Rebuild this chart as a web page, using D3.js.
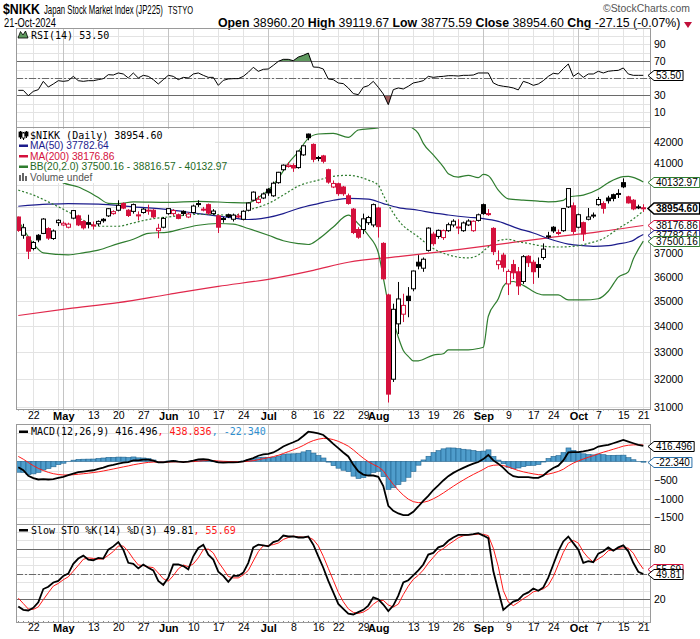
<!DOCTYPE html>
<html>
<head>
<meta charset="utf-8">
<script src="https://cdn.jsdelivr.net/npm/d3@7"></script>
<style>
  body { margin: 0; background: #fff; }
  svg { display: block; }
</style>
</head>
<body>
<div id="chart"></div>
<script>
const WIDTH = 700;
const HEIGHT = 639;

// trading calendar (Tokyo)
const holidays = ['2024-04-29', '2024-05-03', '2024-05-06', '2024-07-15', '2024-08-12', '2024-09-16', '2024-09-23', '2024-10-14'];
const xLabelDays = ['2024-04-22', '2024-05-01', '2024-05-13', '2024-05-20', '2024-05-27', '2024-06-03', '2024-06-10',
  '2024-06-17', '2024-06-24', '2024-07-01', '2024-07-08', '2024-07-16', '2024-07-22', '2024-07-29', '2024-08-01',
  '2024-08-13', '2024-08-19', '2024-08-26', '2024-09-02', '2024-09-09', '2024-09-17', '2024-09-24', '2024-10-01',
  '2024-10-07', '2024-10-15', '2024-10-21'];

const prevClose = 38471.2;
const opens = [38550, 37750, 37680, 37180, 37750, 37830, 38040, 37610, 38300, 38200,
  38100, 38500, 38600, 38350, 38300, 38200, 38250, 38450, 38600, 38700,
  38850, 39150, 38850, 38800, 38600, 38750, 38850, 38850, 37950, 38100,
  38700, 38700, 38650, 38800, 38550, 38750, 39150, 38900, 39100, 38700,
  38600, 38450, 38650, 38450, 38550, 38450, 38850, 39300, 39200, 39400,
  39800, 39500, 40100, 40700, 40850, 40900, 40800, 41400, 42400, 41900,
  41250, 41350, 40700, 39900, 40050, 39900, 39500, 38900, 38000, 38000,
  38300, 38200, 38950, 37400, 35250, 32000, 34100, 34480, 35200, 35500,
  36600, 36350, 37100, 37800, 37700, 37650, 37950, 38200, 38100, 37950,
  38200, 37950, 38400, 39100, 38700, 38050, 36500, 36900, 35700, 36500,
  36200, 35800, 36850, 36600, 36500, 36800, 37700, 38100, 37850, 37950,
  39000, 39050, 38100, 38300, 38450, 38600, 39100, 39150, 39400, 39550,
  39600, 40100, 39450, 39300, 39000, 38960.2];
const highs = [38570, 38250, 37700, 37500, 37800, 38500, 38100, 38000, 38450, 38350,
  38300, 38860, 38650, 38400, 38650, 38350, 38400, 38500, 38950, 38850,
  39300, 39200, 38900, 39150, 38800, 38950, 39100, 38900, 38250, 38550,
  38950, 38900, 38700, 38850, 38750, 39100, 39300, 39000, 39150, 38900,
  38650, 38550, 38700, 38700, 38700, 38850, 39200, 39700, 39500, 39650,
  39850, 40150, 40600, 40950, 41050, 41000, 41600, 41850, 42426, 41950,
  41350, 41400, 40750, 40200, 40100, 39950, 39600, 38950, 38100, 38700,
  38600, 39150, 39000, 37450, 35300, 34900, 35780, 35300, 35570, 36250,
  36900, 36800, 38100, 37900, 38000, 38000, 38300, 38450, 38450, 38350,
  38450, 38400, 38700, 39150, 38900, 38100, 37100, 37000, 36300, 36700,
  36400, 36900, 36900, 36700, 36800, 37400, 37900, 38150, 38000, 38950,
  39830, 39200, 38700, 38350, 38950, 38750, 39450, 39250, 39500, 39600,
  39800, 40300, 39500, 39350, 39100, 39119.67];
const lows = [37900, 37600, 36733, 37100, 37450, 37800, 37550, 37550, 38150, 38150,
  38050, 38450, 38150, 38000, 38050, 38000, 38150, 38300, 38550, 38650,
  38800, 38900, 38550, 38700, 38400, 38700, 38650, 38500, 37620, 38050,
  38650, 38600, 38450, 38600, 38500, 38700, 39000, 38800, 38650, 38650,
  37850, 38300, 38500, 38350, 38500, 38400, 38800, 39250, 39150, 39350,
  39500, 39450, 40050, 40650, 40800, 40600, 40750, 41350, 42100, 41050,
  41100, 41000, 40050, 39850, 39500, 39500, 39100, 37800, 37600, 37800,
  38200, 38100, 37650, 35880, 31156, 31900, 33700, 34170, 34360, 35400,
  36300, 36200, 37050, 37300, 37600, 37550, 37900, 38100, 37800, 37900,
  38150, 37900, 38350, 38650, 38600, 36900, 36300, 36200, 35247, 35900,
  35250, 35700, 36400, 35700, 35950, 36700, 37600, 37850, 37750, 37900,
  38950, 37800, 38050, 37500, 38400, 38500, 39050, 38700, 39150, 39250,
  39400, 39850, 39150, 38850, 38900, 38775.59];
const closes = [37961.8, 38079.7, 37068.35, 37438.61, 37552.16, 38460.08, 37628.48, 37934.76, 38405.66, 38274.05,
  38236.07, 38835.1, 38202.37, 38073.98, 38229.11, 38179.46, 38356.06, 38385.73, 38920.26, 38787.38,
  39069.68, 38946.93, 38617.1, 39103.22, 38646.11, 38900.02, 38855.37, 38556.87, 38054.13, 38487.9,
  38923.03, 38837.46, 38490.17, 38703.51, 38683.93, 39038.16, 39134.79, 38876.71, 38720.47, 38814.56,
  38102.44, 38482.11, 38570.76, 38633.02, 38596.47, 38804.65, 39173.15, 39667.07, 39341.54, 39583.08,
  39631.06, 40074.69, 40580.76, 40913.65, 40912.37, 40780.7, 41580.17, 41831.99, 42224.02, 41190.68,
  41275.08, 41097.69, 40126.35, 40063.79, 39599.0, 39594.39, 39154.85, 37869.51, 37667.41, 38468.63,
  38525.95, 39101.82, 38126.33, 35909.7, 31458.42, 34675.46, 35089.62, 34831.15, 35025.0, 36232.51,
  36442.43, 36726.64, 38062.67, 37388.62, 37963.97, 37951.8, 38211.01, 38364.27, 38110.22, 38288.62,
  38371.76, 38362.53, 38647.75, 38700.87, 38686.31, 37047.61, 36657.09, 36391.47, 36215.75, 36159.16,
  35619.77, 36833.27, 36581.76, 36203.22, 36380.17, 37155.33, 37723.91, 37940.59, 37870.26, 38925.63,
  39829.56, 37919.55, 38651.97, 37808.76, 38552.06, 38635.62, 39332.74, 38937.54, 39277.96, 39380.89,
  39605.8, 39910.55, 39180.3, 38911.19, 38981.75, 38954.6];

// overlays: [trading day index, value]
const ma50 = [[0, 39030], [6, 39120], [10, 39150], [16, 39120], [23, 39000], [30, 38880], [36, 38700], [43, 38510],
  [46, 38440], [50, 38530], [53, 38700], [56, 38930], [60, 39150], [63, 39300], [66, 39380], [70, 39350], [73, 39150],
  [76, 38970], [80, 38850], [83, 38730], [86, 38640], [90, 38540], [93, 38480], [96, 38360], [100, 38040], [103, 37850],
  [106, 37610], [110, 37370], [113, 37300], [115, 37270], [118, 37300], [120, 37380], [122, 37460], [123, 37530],
  [124, 37670], [125, 37782.64]];
const ma200 = [[0, 34430], [10, 34700], [20, 34940], [30, 35270], [40, 35600], [50, 35890], [59, 36260], [66, 36600],
  [76, 36840], [86, 37080], [96, 37360], [106, 37640], [116, 37900], [125, 38176.86]];
const bbUpper = [[0, 41100], [3, 40900], [6, 40500], [9, 40092], [12, 39900], [14, 39680], [16, 39420], [18, 39160],
  [20, 39150], [23, 39225], [30, 39200], [36, 39250], [43, 39190], [46, 39180], [48, 39424], [50, 39757], [52, 40296],
  [54, 40997], [56, 41548], [58, 42193], [60, 42403], [63, 42436], [66, 42242], [68, 42599], [72, 42700], [74, 43300],
  [76, 43500], [78, 42850], [80, 42436], [81, 41952], [83, 41395], [85, 40835], [86, 40518], [88, 40360], [90, 40439],
  [92, 40329], [93, 40480], [94, 40420], [96, 39757], [98, 39360], [101, 39300], [104, 39260], [106, 39225], [109, 39295],
  [110, 39450], [113, 39534], [116, 39800], [118, 40100], [121, 40380], [122, 40390], [124, 40250], [125, 40132.97]];
const bbMiddle = [[0, 39757], [3, 39534], [6, 39225], [10, 38776], [13, 38408], [16, 38143], [20, 38143], [23, 38288],
  [26, 38440], [30, 38554], [33, 38620], [36, 38674], [40, 38650], [43, 38620], [46, 38853], [50, 39153], [53, 39534],
  [56, 39944], [60, 40216], [63, 40391], [66, 40440], [70, 40216], [72, 39983], [73, 39534], [74, 39100], [76, 38408],
  [80, 37677], [83, 37180], [86, 36913], [90, 36780], [92, 36900], [94, 37250], [96, 37520], [98, 37579], [100, 37470],
  [102, 37400], [104, 37313], [106, 37260], [108, 37245], [112, 37300], [114, 37400], [117, 37607], [120, 38043],
  [123, 38460], [125, 38816.57]];
const bbLower = [[0, 38408], [3, 37391], [5, 36998], [10, 36913], [13, 36998], [16, 37111], [20, 37391], [23, 37579],
  [26, 37830], [30, 37889], [33, 38043], [36, 38188], [40, 38263], [43, 38233], [46, 38043], [50, 37750], [53, 37513],
  [56, 37391], [58, 37352], [60, 37579], [63, 38110], [66, 38630], [68, 38250], [70, 37750], [72, 37000], [73, 35950],
  [74, 34899], [75, 34233], [76, 33582], [77, 33072], [78, 32850], [79, 32680], [80, 32683], [83, 32900], [85, 32950],
  [86, 33100], [90, 33100], [92, 33150], [93, 33200], [94, 34400], [96, 35098], [97, 35600], [98, 35775], [99, 35800],
  [101, 35640], [104, 35300], [105, 35250], [108, 35250], [110, 35050], [113, 35050], [116, 35098], [118, 35400],
  [120, 35982], [122, 36200], [123, 36733], [125, 37500.16]];

const rsi = [35.8, 35.8, 29.5, 34.6, 36.6, 46.4, 39.7, 43.3, 47.2, 46.4,
  47.2, 52.3, 47.2, 46.4, 47.2, 47.2, 48.4, 49.6, 54.3, 53.9,
  56.3, 55.1, 50.4, 56.3, 50.4, 53.5, 52.3, 48.4, 43.3, 48.4,
  53.5, 52.3, 48.4, 51.1, 50.4, 55.1, 56.3, 53.5, 51.1, 51.1,
  41.7, 47.6, 49.2, 49.6, 49.6, 52.3, 57.1, 63.0, 58.2, 60.6,
  61.0, 65.3, 70.0, 72.4, 72.4, 70.8, 75.1, 77.1, 79.8, 63.3,
  63.0, 61.0, 49.2, 48.4, 44.5, 43.7, 38.6, 31.9, 30.7, 39.4,
  41.3, 46.4, 39.4, 31.5, 18.9, 36.6, 38.6, 37.4, 40.6, 44.5,
  45.7, 47.2, 52.3, 51.1, 51.9, 52.3, 53.1, 53.1, 52.7, 53.5,
  53.5, 53.9, 56.3, 56.3, 56.3, 44.5, 41.7, 40.6, 39.8, 38.6,
  36.3, 46.4, 44.5, 41.7, 43.3, 47.2, 52.3, 55.9, 55.1, 61.4,
  66.9, 52.3, 56.3, 51.1, 55.1, 55.1, 58.3, 56.3, 58.3, 59.0,
  59.4, 62.2, 55.1, 53.5, 53.5, 53.5];

const macdLine = [-159, -238, -388, -450, -485, -476, -485, -476, -441, -415,
  -370, -326, -291, -273, -256, -238, -203, -168, -123, -97,
  -62, -35, -18, 26, 26, 44, 44, 18, -26, -26,
  -9, 9, -9, -18, -9, 18, 53, 62, 44, 9,
  -26, -35, -26, -26, -18, 0, 44, 88, 150, 185,
  203, 238, 309, 397, 459, 512, 573, 679, 794, 776,
  750, 706, 591, 467, 353, 238, 132, -88, -265, -353,
  -379, -379, -415, -662, -1191, -1323, -1394, -1438, -1438, -1349,
  -1208, -1058, -926, -767, -644, -512, -397, -309, -238, -176,
  -115, -62, -18, 60, 170, 26, -62, -176, -309, -397,
  -423, -423, -423, -441, -441, -379, -265, -176, -115, 26,
  238, 247, 247, 265, 291, 326, 397, 423, 441, 485,
  529, 573, 529, 485, 441, 416.496];
const macdSignal = [132, 58, -31, -115, -189, -246, -294, -330, -352, -365,
  -366, -358, -345, -331, -316, -300, -281, -258, -231, -204,
  -176, -148, -122, -92, -68, -46, -28, -19, -20, -21,
  -19, -13, -12, -13, -12, -6, 6, 17, 22, 19,
  10, 1, -4, -8, -10, -8, 2, 19, 45, 73,
  99, 127, 163, 210, 260, 310, 363, 426, 500, 555,
  594, 616, 611, 582, 536, 476, 407, 308, 193, 84,
  -9, -83, -149, -252, -440, -617, -772, -905, -1012, -1079,
  -1105, -1096, -1062, -1003, -931, -847, -757, -667, -581, -500,
  -423, -351, -284, -215, -138, -105, -96, -112, -151, -200,
  -245, -281, -309, -335, -356, -361, -342, -309, -270, -211,
  -121, -47, 12, 63, 109, 152, 201, 245, 284, 324,
  365, 407, 431, 442, 442, 438.836];
const macdHist = [-291, -296, -357, -335, -296, -230, -191, -146, -89, -50,
  -4, 32, 54, 58, 60, 62, 78, 90, 108, 107,
  114, 113, 104, 118, 94, 90, 72, 37, -6, -5,
  10, 22, 3, -5, 3, 24, 47, 45, 22, -10,
  -36, -36, -22, -18, -8, 8, 42, 69, 105, 112,
  104, 111, 146, 187, 199, 202, 210, 253, 294, 221,
  156, 90, -20, -115, -183, -238, -275, -396, -458, -437,
  -370, -296, -266, -410, -751, -706, -622, -533, -426, -270,
  -103, 38, 136, 236, 287, 335, 360, 358, 343, 324,
  308, 289, 266, 275, 308, 131, 34, -64, -158, -197,
  -178, -142, -114, -106, -85, -18, 77, 133, 155, 237,
  359, 294, 235, 202, 182, 174, 196, 178, 157, 161,
  164, 166, 98, 43, -1, -22.34];

const stoK = [10.9, 7.0, 6.2, 9.4, 16.0, 31.8, 34.5, 39.6, 41.5, 47.5,
  50.2, 61.9, 68.2, 71.7, 67.0, 66.2, 69.0, 68.2, 78.8, 82.7,
  87.8, 78.8, 63.1, 61.9, 56.4, 61.1, 57.2, 54.0, 41.5, 36.8,
  45.4, 61.1, 61.1, 59.2, 55.3, 70.9, 80.8, 84.7, 72.9, 67.0,
  52.5, 47.5, 40.4, 47.5, 47.5, 51.4, 63.1, 81.5, 84.7, 83.9,
  82.7, 87.8, 89.7, 95.6, 94.5, 94.5, 93.3, 93.3, 94.5, 84.7,
  70.9, 57.2, 41.5, 27.8, 14.1, 8.2, 2.4, 1.5, 4.3, 7.0,
  12.1, 21.9, 19.6, 13.3, 5.5, 12.1, 23.9, 39.6, 42.3, 48.2,
  54.1, 61.1, 72.9, 74.9, 81.5, 83.5, 89.4, 93.3, 96.4, 96.4,
  96.4, 97.2, 98.4, 95.6, 92.5, 53.3, 29.8, 7.0, 12.1, 16.9,
  18.8, 25.1, 27.8, 32.5, 29.8, 33.7, 45.4, 61.1, 76.8, 88.6,
  94.5, 86.6, 78.8, 63.1, 65.1, 63.9, 74.1, 76.8, 81.5, 77.6,
  81.5, 83.9, 76.8, 63.1, 52.5, 49.81];
const stoD = [21.0, 14.5, 8.0, 7.5, 10.5, 19.1, 27.4, 35.3, 38.5, 42.9,
  46.4, 53.2, 60.1, 67.3, 69.0, 68.3, 67.4, 67.8, 72.0, 76.6,
  83.1, 83.1, 76.6, 67.9, 60.5, 59.8, 58.2, 57.4, 50.9, 44.1,
  41.2, 47.8, 55.9, 60.5, 58.5, 61.8, 69.0, 78.8, 79.5, 74.9,
  64.1, 55.7, 46.8, 45.1, 45.1, 48.8, 54.0, 65.3, 76.4, 83.4,
  83.8, 84.8, 86.7, 91.0, 93.3, 94.9, 94.1, 93.7, 93.7, 90.8,
  83.4, 70.9, 56.5, 42.2, 27.8, 16.7, 8.2, 4.0, 2.7, 4.3,
  7.8, 13.7, 17.9, 18.3, 12.8, 10.3, 13.8, 25.2, 35.3, 43.4,
  48.2, 54.5, 62.7, 69.6, 76.4, 80.0, 84.8, 88.7, 93.0, 95.4,
  96.4, 96.7, 97.3, 97.1, 95.5, 80.5, 58.5, 30.0, 16.3, 12.0,
  15.9, 20.3, 23.9, 28.5, 30.0, 32.0, 36.3, 46.7, 61.1, 75.5,
  86.6, 89.9, 86.6, 76.2, 69.0, 64.0, 67.7, 71.6, 77.5, 78.6,
  80.2, 81.0, 80.7, 74.6, 64.1, 55.69];

// tick labels (values hidden under a value tag in the original are left out)
const priceTicks = [31000, 32000, 33000, 34000, 35000, 36000, 37000, 41000, 42000];
const priceGrid = [31000, 32000, 33000, 34000, 35000, 36000, 37000, 38000, 39000, 40000, 41000, 42000];
const rsiTicks = [10, 30, 70, 90];
const rsiGrid = [0, 10, 20, 30, 40, 50, 60, 70, 80, 90, 100];
const macdTicks = [-500, -1000, -1500];
const macdGrid = [-1500, -1250, -1000, -750, -500, -250, 0, 250, 500, 750];
const stoTicks = [20, 80];
const stoGrid = [0, 10, 20, 30, 40, 50, 60, 70, 80, 90, 100];

// layout
const PLOT = { LEFT: 16, RIGHT: 650 };
const PANEL = {
  rsi: { top: 28, bottom: 127 },
  price: { top: 127, bottom: 409 },
  macd: { top: 424, bottom: 524 },
  sto: { top: 524, bottom: 622 },
};
const RED = '#d4103c';
const GREEN = '#2f7d2f';
const NAVY = '#1c1c8c';
const GRID = '#e3e3e3';
const MONTH_GRID = '#c4c4c4';
const FRAME = '#9a9a9a';
const MONO = "'DejaVu Sans Mono', monospace";
const SANS = "'Liberation Sans', Arial, sans-serif";

const fmtDay = d3.timeFormat('%Y-%m-%d');
const dates = d3.timeDay
  .range(new Date(2024, 3, 17), new Date(2024, 9, 22))
  .filter((d) => d.getDay() % 6 !== 0 && !holidays.includes(fmtDay(d)))
  .map(fmtDay);

const weekStarts = dates.filter((d, i) => i > 0 &&
  +d3.timeMonday.floor(new Date(d)) !== +d3.timeMonday.floor(new Date(dates[i - 1])));
const monthStarts = dates.filter((d, i) => i > 0 && d.slice(5, 7) !== dates[i - 1].slice(5, 7));

const x = d3.scalePoint().domain(dates).range([18.3, 643.3]);
const xi = (i) => x(dates[i]);
const yRsi = d3.scaleLinear().domain([-7.5, 109.4]).range([PANEL.rsi.bottom, PANEL.rsi.top]);
const yPrice = d3.scaleLog().domain([30925, 42746]).range([PANEL.price.bottom, PANEL.price.top]);
const yMacd = d3.scaleLinear().domain([-1677, 1000]).range([PANEL.macd.bottom, PANEL.macd.top]);
const ySto = d3.scaleLinear().domain([-7.5, 109.4]).range([PANEL.sto.bottom, PANEL.sto.top]);

const svg = d3.select('#chart').append('svg')
  .attr('width', WIDTH).attr('height', HEIGHT)
  .style('font-family', SANS);

const clipFor = (id, { top, bottom }) => {
  svg.append('clipPath').attr('id', id).append('rect')
    .attr('x', PLOT.LEFT).attr('y', top)
    .attr('width', PLOT.RIGHT - PLOT.LEFT).attr('height', bottom - top);
  return `url(#${id})`;
};

const drawGrid = (panel, y, gridValues) => {
  const g = svg.append('g');
  g.selectAll('.hg').data(gridValues).join('line')
    .attr('x1', PLOT.LEFT).attr('x2', PLOT.RIGHT)
    .attr('y1', (d) => Math.round(y(d)) + 0.5).attr('y2', (d) => Math.round(y(d)) + 0.5)
    .attr('stroke', GRID);
  g.selectAll('.wg').data(weekStarts).join('line')
    .attr('x1', (d) => Math.round(x(d)) + 0.5).attr('x2', (d) => Math.round(x(d)) + 0.5)
    .attr('y1', panel.top).attr('y2', panel.bottom)
    .attr('stroke', GRID);
  g.selectAll('.mg').data(monthStarts).join('line')
    .attr('x1', (d) => Math.round(x(d)) + 0.5).attr('x2', (d) => Math.round(x(d)) + 0.5)
    .attr('y1', panel.top).attr('y2', panel.bottom)
    .attr('stroke', MONTH_GRID);
};

const drawRightAxis = (y, ticks, format) => {
  svg.append('g')
    .attr('transform', `translate(${PLOT.RIGHT}, 0)`)
    .call(d3.axisRight(y).tickValues(ticks).tickSize(0).tickPadding(4).tickFormat(format))
    .call((g) => g.select('.domain').remove())
    .selectAll('text')
    .style('font-family', SANS)
    .style('font-size', '10.5px')
    .attr('fill', '#000');
};

const drawFrame = ({ top, bottom }) => {
  svg.append('rect')
    .attr('x', PLOT.LEFT + 0.5).attr('y', top + 0.5)
    .attr('width', PLOT.RIGHT - PLOT.LEFT).attr('height', bottom - top)
    .attr('fill', 'none').attr('stroke', FRAME);
};

const refLine = (y, value, dashed) => svg.append('line')
  .attr('x1', PLOT.LEFT).attr('x2', PLOT.RIGHT)
  .attr('y1', Math.round(y(value)) + 0.5).attr('y2', Math.round(y(value)) + 0.5)
  .attr('stroke', '#6a6a6a')
  .attr('stroke-dasharray', dashed ? '7,2,2,2' : null);

const drawTag = (y, label, { stroke, color = '#000', bold = false, width = 1 }) => {
  const g = svg.append('g').attr('transform', `translate(${PLOT.RIGHT - 2}, ${Math.round(y) + 0.5})`);
  const path = g.append('path');
  const text = g.append('text')
    .attr('x', 8).attr('dy', '0.36em')
    .style('font-family', SANS)
    .style('font-size', '10px')
    .style('font-weight', bold ? 'bold' : null)
    .attr('fill', color)
    .text(label);
  const w = text.node().getComputedTextLength();
  const h = bold ? 5.5 : 5;
  path.attr('d', `M0,0 L6,${-h} H${w + 10} V${h} H6 Z`)
    .attr('fill', '#fff').attr('stroke', stroke).attr('stroke-width', width);
};

const lineOf = (y) => d3.line().x((d, i) => xi(i)).y((d) => y(d));
const pairLine = (y) => d3.line().x((d) => xi(d[0])).y((d) => y(d[1])).curve(d3.curveMonotoneX);

// header: the original uses a narrow face, so each run is squeezed horizontally to its width
const header = svg.append('g');
const headText = (x0, y0, size, targetWidth, txt, bold) => {
  const g = header.append('g');
  const t = g.append('text')
    .style('font-size', size).style('font-weight', bold ? 'bold' : null)
    .text(txt);
  const sx = targetWidth / t.node().getComputedTextLength();
  g.attr('transform', `translate(${x0}, ${y0}) scale(${sx}, 1)`);
  return t;
};
headText(3, 13.5, '15px', 37, '$NIKK', true);
headText(44, 13.5, '12.5px', 119, 'Japan Stock Market Index (JP225)');
headText(168, 13.5, '10.5px', 25, 'TSTYO');
headText(603, 12, '11.5px', 87, '©StockCharts.com').attr('fill', '#555');
headText(4, 27, '12px', 52, '21-Oct-2024');
const quote = headText(218, 27, '12.5px', 463, '');
[['Open', ' 38960.20 '], ['High', ' 39119.67 '], ['Low', ' 38775.59 '], ['Close', ' 38954.60 '], ['Chg', ' -27.15 (-0.07%)']]
  .forEach(([k, v]) => {
    quote.append('tspan').style('font-weight', 'bold').text(k);
    quote.append('tspan').text(v);
  });
const quoteScale = 463 / quote.node().getComputedTextLength();
d3.select(quote.node().parentNode).attr('transform', `translate(218, 27) scale(${quoteScale}, 1)`);
header.append('path').attr('d', 'M684,22 L692,22 L688,28 Z').attr('fill', '#c0103a');

// grids
drawGrid(PANEL.rsi, yRsi, rsiGrid);
drawGrid(PANEL.price, yPrice, priceGrid);
drawGrid(PANEL.macd, yMacd, macdGrid);
drawGrid(PANEL.sto, ySto, stoGrid);

// RSI panel
const rsiClip = clipFor('clip-rsi', PANEL.rsi);
svg.append('clipPath').attr('id', 'rsi-hi').append('rect')
  .attr('x', PLOT.LEFT).attr('y', PANEL.rsi.top).attr('width', PLOT.RIGHT - PLOT.LEFT)
  .attr('height', yRsi(70) - PANEL.rsi.top);
svg.append('clipPath').attr('id', 'rsi-lo').append('rect')
  .attr('x', PLOT.LEFT).attr('y', yRsi(30)).attr('width', PLOT.RIGHT - PLOT.LEFT)
  .attr('height', PANEL.rsi.bottom - yRsi(30));
svg.append('path').datum(rsi).attr('clip-path', 'url(#rsi-hi)')
  .attr('d', d3.area().x((d, i) => xi(i)).y0(yRsi(70)).y1((d) => yRsi(d)))
  .attr('fill', '#5f995f');
svg.append('path').datum(rsi).attr('clip-path', 'url(#rsi-lo)')
  .attr('d', d3.area().x((d, i) => xi(i)).y0(yRsi(30)).y1((d) => yRsi(d)))
  .attr('fill', '#9e5c5c');
refLine(yRsi, 70);
refLine(yRsi, 30);
refLine(yRsi, 50, true);
svg.append('path').datum(rsi).attr('clip-path', rsiClip)
  .attr('d', lineOf(yRsi)).attr('fill', 'none').attr('stroke', '#000').attr('stroke-width', 1);
drawRightAxis(yRsi, rsiTicks, d3.format('d'));

// price panel
const priceClip = clipFor('clip-price', PANEL.price);
const overlays = svg.append('g').attr('clip-path', priceClip).attr('fill', 'none');
overlays.append('path').datum(ma200).attr('d', pairLine(yPrice)).attr('stroke', '#e0284c').attr('stroke-width', 1.2);
overlays.append('path').datum(ma50).attr('d', pairLine(yPrice)).attr('stroke', NAVY).attr('stroke-width', 1.2);
overlays.append('path').datum(bbUpper).attr('d', pairLine(yPrice)).attr('stroke', GREEN).attr('stroke-width', 1.2);
overlays.append('path').datum(bbLower).attr('d', pairLine(yPrice)).attr('stroke', GREEN).attr('stroke-width', 1.2);
overlays.append('path').datum(bbMiddle).attr('d', pairLine(yPrice)).attr('stroke', GREEN)
  .attr('stroke-width', 1.2).attr('stroke-dasharray', '2,2');

const candles = closes.map((c, i) => ({
  i,
  open: opens[i],
  high: highs[i],
  low: lows[i],
  close: c,
  up: c >= (i === 0 ? prevClose : closes[i - 1]),
}));
const candleG = svg.append('g').attr('clip-path', priceClip);
candleG.selectAll('line').data(candles).join('line')
  .attr('x1', (d) => Math.round(xi(d.i)) + 0.5).attr('x2', (d) => Math.round(xi(d.i)) + 0.5)
  .attr('y1', (d) => yPrice(d.high)).attr('y2', (d) => yPrice(d.low))
  .attr('stroke', (d) => (d.up ? '#000' : RED));
candleG.selectAll('rect').data(candles).join('rect')
  .attr('x', (d) => Math.round(xi(d.i)) - 1.5)
  .attr('y', (d) => yPrice(Math.max(d.open, d.close)))
  .attr('width', 4)
  .attr('height', (d) => Math.max(1, Math.abs(yPrice(d.open) - yPrice(d.close))))
  .attr('fill', (d) => (d.close < d.open ? (d.up ? '#000' : RED) : '#fff'))
  .attr('stroke', (d) => (d.up ? '#000' : RED));

drawRightAxis(yPrice, priceTicks, d3.format('d'));

// price legend
const legend = svg.append('g');
legend.append('rect').attr('x', PLOT.LEFT + 1).attr('y', 129).attr('width', 198).attr('height', 54).attr('fill', '#fff');
const legendRows = [
  { y: 135.5, color: '#000', text: '$NIKK (Daily) 38954.60', font: MONO },
  { y: 145.5, color: NAVY, text: 'MA(50) 37782.64', font: SANS, swatch: NAVY },
  { y: 156, color: RED, text: 'MA(200) 38176.86', font: SANS, swatch: RED },
  { y: 166.5, color: '#1f6a1f', text: 'BB(20,2.0) 37500.16 - 38816.57 - 40132.97', font: SANS, swatch: GREEN },
  { y: 177, color: '#555', text: 'Volume undef', font: SANS },
];
legendRows.forEach((r) => {
  legend.append('text').attr('x', 30).attr('y', r.y).attr('dy', '0.35em')
    .style('font-family', r.font).style('font-size', r.font === MONO ? '10px' : '10.2px')
    .attr('fill', r.color).text(r.text);
  if (r.swatch) {
    legend.append('rect').attr('x', 19).attr('y', r.y - 1).attr('width', 9).attr('height', 2.5).attr('fill', r.swatch);
  }
});
[[20, 132, 137], [23, 133, 138], [26, 132, 136]].forEach(([cx, t, b], k) => {
  legend.append('line').attr('x1', cx + 0.5).attr('x2', cx + 0.5).attr('y1', t - 1).attr('y2', b + 2).attr('stroke', '#000');
  legend.append('rect').attr('x', cx - 1).attr('y', t).attr('width', 3).attr('height', b - t)
    .attr('fill', k === 1 ? '#fff' : '#000').attr('stroke', '#000').attr('stroke-width', 0.8);
});
[[19, 175], [22, 173], [25, 176]].forEach(([bx, by]) => {
  legend.append('rect').attr('x', bx).attr('y', by).attr('width', 2).attr('height', 181 - by).attr('fill', '#666');
});

// x axis labels
const drawXLabels = (yPos) => {
  svg.append('g')
    .attr('transform', `translate(0, ${yPos})`)
    .call(d3.axisBottom(x).tickValues(xLabelDays).tickSize(0).tickPadding(0)
      .tickFormat((d) => (monthStarts.includes(d) ? d3.timeFormat('%b')(new Date(d)) : String(+d.slice(8)))))
    .call((g) => g.select('.domain').remove())
    .selectAll('text')
    .style('font-family', SANS)
    .style('font-size', (d) => (monthStarts.includes(d) ? '11px' : '10.5px'))
    .style('font-weight', (d) => (monthStarts.includes(d) ? 'bold' : null))
    .attr('fill', '#000');
  svg.append('g').selectAll('line').data(dates).join('line')
    .attr('x1', (d) => Math.round(x(d)) + 0.5).attr('x2', (d) => Math.round(x(d)) + 0.5)
    .attr('y1', yPos - 3).attr('y2', yPos - 1.5)
    .attr('stroke', '#888');
};
drawXLabels(PANEL.price.bottom + 3);
drawXLabels(PANEL.sto.bottom + 2);

// MACD panel
const macdClip = clipFor('clip-macd', PANEL.macd);
const macdG = svg.append('g').attr('clip-path', macdClip);
macdG.selectAll('rect').data(macdHist).join('rect')
  .attr('x', (d, i) => Math.round(xi(i)) - 2)
  .attr('width', 5)
  .attr('y', (d) => Math.min(yMacd(0), yMacd(d)))
  .attr('height', (d) => Math.abs(yMacd(d) - yMacd(0)))
  .attr('fill', '#4f9dcc')
  .attr('stroke', '#22648f')
  .attr('stroke-width', 0.6);
macdG.append('path').datum(macdSignal).attr('d', lineOf(yMacd))
  .attr('fill', 'none').attr('stroke', '#ff1a1a').attr('stroke-width', 1);
macdG.append('path').datum(macdLine).attr('d', lineOf(yMacd))
  .attr('fill', 'none').attr('stroke', '#000').attr('stroke-width', 1.8);
drawRightAxis(yMacd, macdTicks, d3.format('d'));

// STO panel
refLine(ySto, 80);
refLine(ySto, 20);
refLine(ySto, 50, true);
const stoClip = clipFor('clip-sto', PANEL.sto);
const stoG = svg.append('g').attr('clip-path', stoClip).attr('fill', 'none');
stoG.append('path').datum(stoD).attr('d', lineOf(ySto)).attr('stroke', '#ff1a1a').attr('stroke-width', 1);
stoG.append('path').datum(stoK).attr('d', lineOf(ySto)).attr('stroke', '#000').attr('stroke-width', 1.8);
drawRightAxis(ySto, stoTicks, d3.format('d'));

// frames
Object.values(PANEL).forEach(drawFrame);

// indicator legends
const indicatorLegend = (y, parts) => {
  svg.append('rect').attr('x', 19).attr('y', y - 1).attr('width', 9).attr('height', 2.5).attr('fill', '#000');
  const t = svg.append('text').attr('x', 31).attr('y', y).attr('dy', '0.35em')
    .style('font-family', MONO).style('font-size', '10px');
  parts.forEach(([txt, color]) => t.append('tspan').attr('fill', color).text(txt));
};
svg.append('path').attr('d', 'M18,38 L20.5,31.5 L23,35 L25.5,31 L28,38 Z')
  .attr('fill', '#5f995f').attr('stroke', '#000').attr('stroke-width', 0.8);
svg.append('text').attr('x', 31).attr('y', 35).attr('dy', '0.35em')
  .style('font-family', MONO).style('font-size', '10px').text('RSI(14) 53.50');
indicatorLegend(431.5, [['MACD(12,26,9) 416.496', '#000'], [', 438.836', '#ff1a1a'], [', -22.340', '#2f8fd0']]);
indicatorLegend(530, [['Slow STO %K(14) %D(3) 49.81', '#000'], [', 55.69', '#ff1a1a']]);

// value tags
drawTag(yRsi(53.5), '53.50', { stroke: '#000' });
drawTag(yPrice(38176.86), '38176.86', { stroke: RED });
drawTag(yPrice(37782.64), '37782.64', { stroke: NAVY });
drawTag(yPrice(37500.16), '37500.16', { stroke: GREEN });
drawTag(yPrice(40132.97), '40132.97', { stroke: GREEN });
drawTag(yPrice(38954.6), '38954.60', { stroke: '#000', bold: true, width: 1.6 });
drawTag(yMacd(416.496), '416.496', { stroke: '#000' });
drawTag(yMacd(-22.34), '-22.340', { stroke: '#2a6fa8' });
drawTag(ySto(55.69), '55.69', { stroke: RED });
drawTag(ySto(49.81), '49.81', { stroke: '#000' });
</script>
</body>
</html>
